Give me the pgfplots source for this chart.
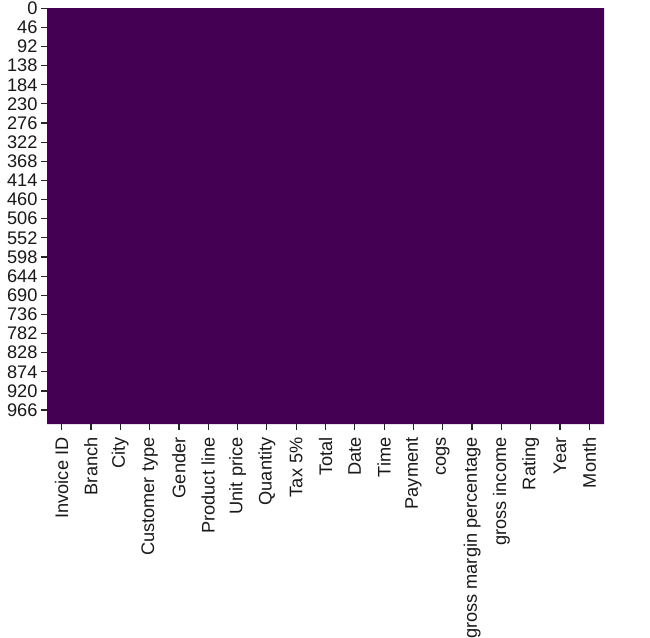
\documentclass[border=0pt]{standalone}
\usepackage{fontspec}
\setmainfont{Liberation Sans}
\usepackage{pgfplots}
\pgfplotsset{compat=1.18}
\definecolor{vir0}{HTML}{440154}
\begin{document}
\begin{tikzpicture}
\useasboundingbox (0,0) rectangle (650bp,638bp);
\begin{axis}[
  at={(47bp,214bp)}, anchor=south west, scale only axis,
  width=557bp, height=416bp,
  xmin=0, xmax=19, ymin=0, ymax=1000, y dir=reverse,
  axis line style={draw=none},
  tick align=outside, major tick length=6bp,
  tick style={color=black!85, line width=1.2bp},
  tick pos=left,
  xtick={0.5,1.5,2.5,3.5,4.5,5.5,6.5,7.5,8.5,9.5,10.5,11.5,12.5,13.5,14.5,15.5,16.5,17.5,18.5},
  xticklabels={Invoice ID,Branch,City,Customer type,Gender,Product line,Unit price,Quantity,Tax 5\%,Total,Date,Time,Payment,cogs,gross margin percentage,gross income,Rating,Year,Month},
  xticklabel style={rotate=90, anchor=east},
  xticklabel shift=4bp,
  ytick={0.5,46.5,92.5,138.5,184.5,230.5,276.5,322.5,368.5,414.5,460.5,506.5,552.5,598.5,644.5,690.5,736.5,782.5,828.5,874.5,920.5,966.5},
  yticklabels={0,46,92,138,184,230,276,322,368,414,460,506,552,598,644,690,736,782,828,874,920,966},
  tick label style={font=\fontsize{18.2bp}{21bp}\selectfont, text=black!90},
  /pgf/number format/assume math mode=true,
]
\addplot[fill=vir0, draw=none] coordinates {(0,0) (19,0) (19,1000) (0,1000) (0,0)};
\end{axis}
\end{tikzpicture}
\end{document}
